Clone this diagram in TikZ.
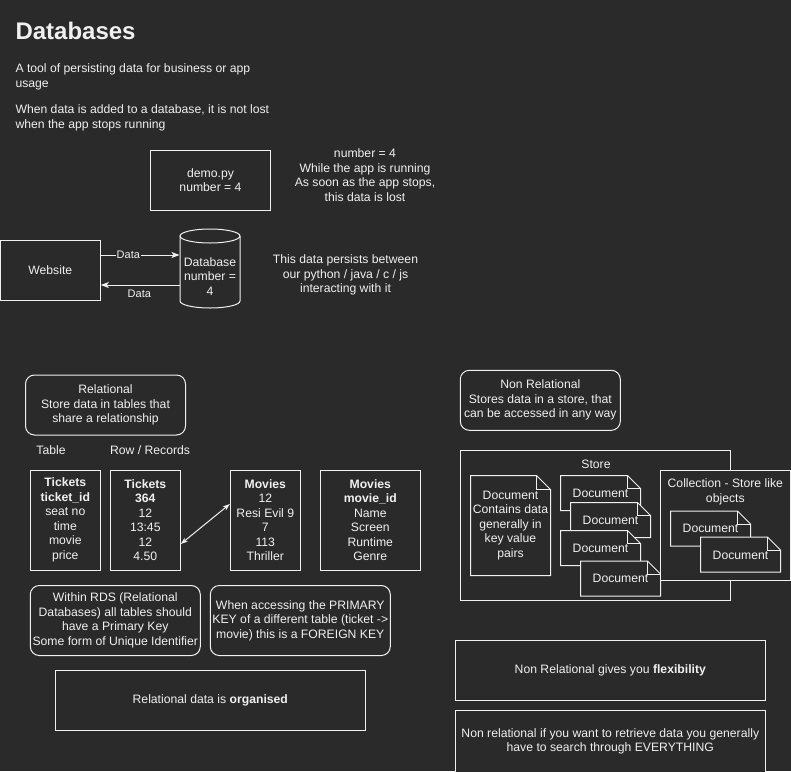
\documentclass[tikz,border=0pt]{standalone}
\usepackage{fontspec}
\setmainfont{Liberation Sans}
\usetikzlibrary{arrows.meta}

\definecolor{bg}{HTML}{2A2A2A}
\definecolor{fg}{HTML}{F0F0F0}

% folded-corner sheet: x, y (top left), width, height, fold
\newcommand{\notesheet}[5]{%
    \filldraw[draw=fg, fill=bg] (#1,#2) -- ({#1+#3-#5},#2) -- ({#1+#3},{#2+#5})
        -- ({#1+#3},{#2+#4}) -- (#1,{#2+#4}) -- cycle;
    \draw[fg] ({#1+#3-#5},#2) -- ({#1+#3-#5},{#2+#5}) -- ({#1+#3},{#2+#5});
}

\begin{document}
\begin{tikzpicture}[x=1pt, y=-1pt, line width=1pt,
    every node/.style={text=fg, inner sep=0pt, align=center,
        font=\fontsize{12.2}{14.5}\selectfont},
    box/.style={draw=fg, fill=bg},
    roundbox/.style={box, rounded corners=9pt},
    arrow/.style={draw=fg, -{Stealth[length=8pt, width=6pt, inset=2pt]}},
    bothways/.style={draw=fg, {Stealth[length=7pt, width=5pt, inset=2pt]}-{Stealth[length=7pt, width=5pt, inset=2pt]}},
    lbl/.style={font=\fontsize{11}{13}\selectfont, inner sep=1pt}]

    \fill[bg] (0,0) rectangle (791,771);
    \useasboundingbox (0,0) rectangle (791,771);

    \node[anchor=base west, font=\fontsize{24}{28}\selectfont\bfseries] (title) at (15,39) {Databases};
    \node[anchor=north west, align=left] (intro) at (15,63.2)
        {A tool of persisting data for business or app\\usage};
    \node[anchor=north west, align=left] (lost) at (15,104.2)
        {When data is added to a database, it is not lost\\when the app stops running};

    \node[box, minimum width=120pt, minimum height=60pt] (demo) at (210.5,180) {demo.py\\number = 4};
    \node (running) at (365,175) {number = 4\\While the app is running\\As soon as the app stops,\\this data is lost};

    % website and database
    \node[box, minimum width=100pt, minimum height=60pt] (web) at (50.3,270) {Website};
    \draw[fg] (180,236) -- (180,301) arc[start angle=180, end angle=0, x radius=30, y radius=7] -- (240,236);
    \draw[fg] (210,236) ellipse [x radius=30, y radius=7];
    \node[minimum width=60pt] (db) at (210,276.5) {Database\\number =\\4};
    \node (persist) at (345.5,275) {This data persists between\\our python / java / c / js\\interacting with it};

    \draw[arrow] ([yshift=15pt]web.east) -- ([yshift=15pt]web.east -| db.west)
        node[lbl, fill=bg, pos=0.35] {Data};
    \draw[arrow] ([yshift=-15pt]web.east -| db.west) -- ([yshift=-15pt]web.east)
        node[lbl, pos=0.51, yshift=-8.5pt] {Data};

    % relational
    \node[roundbox, minimum width=160pt, minimum height=60pt] (rel) at (105.5,405)
        {Relational\\Store data in tables that\\share a relationship};
    \node (tablelbl) at (51,450.5) {Table};
    \node (rowlbl) at (150,450.5) {Row / Records};

    \node[box, minimum width=70pt, minimum height=100pt] (tickets) at (65.3,520)
        {\textbf{Tickets}\\\textbf{ticket\_id}\\seat no\\time\\movie\\price};
    \node[box, minimum width=70pt, minimum height=100pt] (ticketrow) at (145.3,520)
        {\textbf{Tickets}\\\textbf{364}\\12\\13:45\\12\\4.50};
    \node[box, minimum width=70pt, minimum height=100pt] (movierow) at (265.3,520)
        {\textbf{Movies}\\12\\Resi Evil 9\\7\\113\\Thriller};
    \node[box, minimum width=100pt, minimum height=100pt] (movies) at (370.3,520)
        {\textbf{Movies}\\\textbf{movie\_id}\\Name\\Screen\\Runtime\\Genre};
    \draw[bothways] ([yshift=-24pt]ticketrow.east) -- ([yshift=16pt]movierow.west);

    \node[roundbox, minimum width=170pt, minimum height=70pt] (rds) at (115.3,620.5)
        {Within RDS (Relational\\Databases) all tables should\\have a Primary Key\\Some form of Unique Identifier};
    \node[roundbox, minimum width=180pt, minimum height=70pt] (foreign) at (300.3,620.5)
        {When accessing the PRIMARY\\KEY of a different table (ticket ->\\movie) this is a FOREIGN KEY};
    \node[box, minimum width=310pt, minimum height=60pt] (organised) at (210.3,700.3)
        {Relational data is \textbf{organised}};

    % non relational
    \node[roundbox, minimum width=160pt, minimum height=60pt] (nonrel) at (540.3,400.3)
        {Non Relational\\Stores data in a store, that\\can be accessed in any way};
    \node[box, minimum width=270pt, minimum height=150pt] (store) at (595.3,525.3) {};
    \node (storelbl) at (596,464) {Store};

    \notesheet{470.5}{475.5}{80}{100}{14}
    \node (keyvalue) at (510.5,525.5) {Document\\Contains data\\generally in\\key value\\pairs};
    \notesheet{560.5}{475.5}{80}{35}{13}
    \node (doca) at (600.5,493) {Document};
    \notesheet{570.5}{502.5}{80}{35}{13}
    \node (docb) at (610.5,520) {Document};
    \notesheet{560.5}{530.5}{80}{35}{13}
    \node (docc) at (600.5,548) {Document};
    \notesheet{580.5}{561}{80}{35}{13}
    \node (docd) at (620.5,578.5) {Document};

    \node[box, minimum width=130pt, minimum height=110pt] (coll) at (725.3,525.3) {};
    \node (colllbl) at (725.3,492) {Collection - Store like\\objects};
    \notesheet{670.5}{511}{80}{35}{13}
    \node (doce) at (710.5,528.5) {Document};
    \notesheet{700.5}{537}{80}{35}{13}
    \node (docf) at (740.5,555) {Document};

    \node[box, minimum width=310pt, minimum height=60pt] (flex) at (610.3,670.3)
        {Non Relational gives you \textbf{flexibility}};
    \node[box, minimum width=310pt, minimum height=62pt] (search) at (610.3,741.3)
        {Non relational if you want to retrieve data you generally\\have to search through EVERYTHING};
\end{tikzpicture}
\end{document}
